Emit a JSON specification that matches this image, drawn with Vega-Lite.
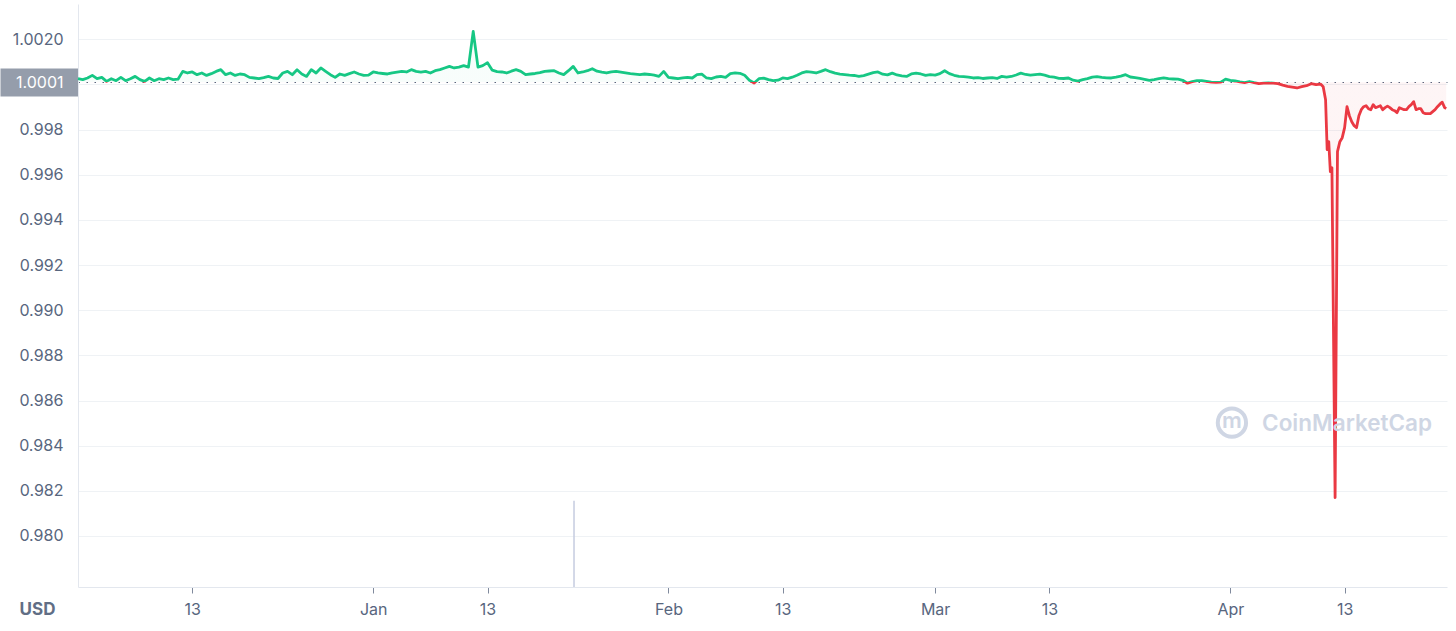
{
"$schema":"https://vega.github.io/schema/vega-lite/v6.json",
"width":1369,"height":583,"autosize":"none",
"padding":{"left":78,"top":4,"right":9,"bottom":44},
"background":"#ffffff",
"config":{"view":{"stroke":null},"font":"Inter"},
"datasets":{
"price":[
{"t":"2022-12-01T00:00","p":1.000255},{"t":"2022-12-01T12:00","p":1.000211},
{"t":"2022-12-02T00:00","p":1.000286},{"t":"2022-12-02T12:00","p":1.000401},
{"t":"2022-12-03T00:00","p":1.000255},{"t":"2022-12-03T12:00","p":1.000313},
{"t":"2022-12-04T00:00","p":1.000135},{"t":"2022-12-04T12:00","p":1.000255},
{"t":"2022-12-05T00:00","p":1.000166},{"t":"2022-12-05T12:00","p":1.000313},
{"t":"2022-12-06T00:00","p":1.000166},{"t":"2022-12-06T12:00","p":1.000255},
{"t":"2022-12-07T00:00","p":1.000357},{"t":"2022-12-07T12:00","p":1.000211},
{"t":"2022-12-08T00:00","p":1.000135},{"t":"2022-12-08T12:00","p":1.000286},
{"t":"2022-12-09T00:00","p":1.000166},{"t":"2022-12-09T12:00","p":1.000255},
{"t":"2022-12-10T00:00","p":1.000211},{"t":"2022-12-10T12:00","p":1.000286},
{"t":"2022-12-11T00:00","p":1.000211},{"t":"2022-12-11T12:00","p":1.000233},
{"t":"2022-12-12T00:00","p":1.000578},{"t":"2022-12-12T12:00","p":1.000508},
{"t":"2022-12-13T00:00","p":1.000552},{"t":"2022-12-13T12:00","p":1.000432},
{"t":"2022-12-14T00:00","p":1.000508},{"t":"2022-12-14T12:00","p":1.000401},
{"t":"2022-12-15T00:00","p":1.000477},{"t":"2022-12-15T12:00","p":1.000578},
{"t":"2022-12-16T00:00","p":1.000654},{"t":"2022-12-16T12:00","p":1.000432},
{"t":"2022-12-17T00:00","p":1.000508},{"t":"2022-12-17T12:00","p":1.000401},
{"t":"2022-12-18T00:00","p":1.000463},{"t":"2022-12-18T12:00","p":1.000432},
{"t":"2022-12-19T00:00","p":1.000313},{"t":"2022-12-19T12:00","p":1.000286},
{"t":"2022-12-20T00:00","p":1.000255},{"t":"2022-12-20T12:00","p":1.000299},
{"t":"2022-12-21T00:00","p":1.000357},{"t":"2022-12-21T12:00","p":1.000286},
{"t":"2022-12-22T00:00","p":1.000264},{"t":"2022-12-22T12:00","p":1.000508},
{"t":"2022-12-23T00:00","p":1.000578},{"t":"2022-12-23T12:00","p":1.000432},
{"t":"2022-12-24T00:00","p":1.000654},{"t":"2022-12-24T12:00","p":1.000463},
{"t":"2022-12-25T00:00","p":1.000357},{"t":"2022-12-25T12:00","p":1.000654},
{"t":"2022-12-26T00:00","p":1.000508},{"t":"2022-12-26T12:00","p":1.000729},
{"t":"2022-12-27T00:00","p":1.000578},{"t":"2022-12-27T12:00","p":1.000432},
{"t":"2022-12-28T00:00","p":1.000313},{"t":"2022-12-28T12:00","p":1.000463},
{"t":"2022-12-29T00:00","p":1.000401},{"t":"2022-12-29T12:00","p":1.000477},
{"t":"2022-12-30T00:00","p":1.000552},{"t":"2022-12-30T12:00","p":1.000463},
{"t":"2022-12-31T00:00","p":1.000401},{"t":"2022-12-31T12:00","p":1.00041},
{"t":"2023-01-01T00:00","p":1.000552},{"t":"2023-01-01T12:00","p":1.000508},
{"t":"2023-01-02T00:00","p":1.000485},{"t":"2023-01-02T12:00","p":1.000463},
{"t":"2023-01-03T00:00","p":1.000508},{"t":"2023-01-03T12:00","p":1.000543},
{"t":"2023-01-04T00:00","p":1.000578},{"t":"2023-01-04T12:00","p":1.000552},
{"t":"2023-01-05T00:00","p":1.000654},{"t":"2023-01-05T12:00","p":1.000578},
{"t":"2023-01-06T00:00","p":1.000543},{"t":"2023-01-06T12:00","p":1.000578},
{"t":"2023-01-07T00:00","p":1.000508},{"t":"2023-01-07T12:00","p":1.000609},
{"t":"2023-01-08T00:00","p":1.000654},{"t":"2023-01-08T12:00","p":1.000729},
{"t":"2023-01-09T00:00","p":1.0008},{"t":"2023-01-09T12:00","p":1.000729},
{"t":"2023-01-10T00:00","p":1.000765},{"t":"2023-01-10T12:00","p":1.000831},
{"t":"2023-01-11T00:00","p":1.000765},{"t":"2023-01-11T12:00","p":1.00235},
{"t":"2023-01-12T00:00","p":1.000765},{"t":"2023-01-12T12:00","p":1.000831},
{"t":"2023-01-13T00:00","p":1.000964},{"t":"2023-01-13T12:00","p":1.000632},
{"t":"2023-01-14T00:00","p":1.000565},{"t":"2023-01-14T12:00","p":1.000552},
{"t":"2023-01-15T00:00","p":1.000508},{"t":"2023-01-15T12:00","p":1.000587},
{"t":"2023-01-16T00:00","p":1.000654},{"t":"2023-01-16T12:00","p":1.000578},
{"t":"2023-01-17T00:00","p":1.000432},{"t":"2023-01-17T12:00","p":1.000463},
{"t":"2023-01-18T00:00","p":1.000485},{"t":"2023-01-18T12:00","p":1.000521},
{"t":"2023-01-19T00:00","p":1.000578},{"t":"2023-01-19T12:00","p":1.000596},
{"t":"2023-01-20T00:00","p":1.000609},{"t":"2023-01-20T12:00","p":1.000508},
{"t":"2023-01-21T00:00","p":1.000432},{"t":"2023-01-21T12:00","p":1.000609},
{"t":"2023-01-22T00:00","p":1.0008},{"t":"2023-01-22T12:00","p":1.000508},
{"t":"2023-01-23T00:00","p":1.000552},{"t":"2023-01-23T12:00","p":1.000609},
{"t":"2023-01-24T00:00","p":1.000698},{"t":"2023-01-24T12:00","p":1.000587},
{"t":"2023-01-25T00:00","p":1.000543},{"t":"2023-01-25T12:00","p":1.000508},
{"t":"2023-01-26T00:00","p":1.000552},{"t":"2023-01-26T12:00","p":1.000578},
{"t":"2023-01-27T00:00","p":1.000543},{"t":"2023-01-27T12:00","p":1.000508},
{"t":"2023-01-28T00:00","p":1.000477},{"t":"2023-01-28T12:00","p":1.000454},
{"t":"2023-01-29T00:00","p":1.000432},{"t":"2023-01-29T12:00","p":1.000463},
{"t":"2023-01-30T00:00","p":1.000441},{"t":"2023-01-30T12:00","p":1.00041},
{"t":"2023-01-31T00:00","p":1.000357},{"t":"2023-01-31T12:00","p":1.000578},
{"t":"2023-02-01T00:00","p":1.000313},{"t":"2023-02-01T12:00","p":1.000286},
{"t":"2023-02-02T00:00","p":1.000255},{"t":"2023-02-02T12:00","p":1.00029},
{"t":"2023-02-03T00:00","p":1.000313},{"t":"2023-02-03T12:00","p":1.000286},
{"t":"2023-02-04T00:00","p":1.000432},{"t":"2023-02-04T12:00","p":1.000454},
{"t":"2023-02-05T00:00","p":1.000286},{"t":"2023-02-05T12:00","p":1.000255},
{"t":"2023-02-06T00:00","p":1.00033},{"t":"2023-02-06T12:00","p":1.000353},
{"t":"2023-02-07T00:00","p":1.000313},{"t":"2023-02-07T12:00","p":1.000477},
{"t":"2023-02-08T00:00","p":1.000508},{"t":"2023-02-08T12:00","p":1.000494},
{"t":"2023-02-09T00:00","p":1.00041},{"t":"2023-02-09T12:00","p":1.000189},
{"t":"2023-02-10T00:00","p":1.000065},{"t":"2023-02-10T12:00","p":1.000255},
{"t":"2023-02-11T00:00","p":1.000277},{"t":"2023-02-11T12:00","p":1.000211},
{"t":"2023-02-12T00:00","p":1.000166},{"t":"2023-02-12T12:00","p":1.000189},
{"t":"2023-02-13T00:00","p":1.000286},{"t":"2023-02-13T12:00","p":1.000255},
{"t":"2023-02-14T00:00","p":1.000322},{"t":"2023-02-14T12:00","p":1.00041},
{"t":"2023-02-15T00:00","p":1.000508},{"t":"2023-02-15T12:00","p":1.000565},
{"t":"2023-02-16T00:00","p":1.000543},{"t":"2023-02-16T12:00","p":1.000508},
{"t":"2023-02-17T00:00","p":1.000578},{"t":"2023-02-17T12:00","p":1.000654},
{"t":"2023-02-18T00:00","p":1.000565},{"t":"2023-02-18T12:00","p":1.000499},
{"t":"2023-02-19T00:00","p":1.000454},{"t":"2023-02-19T12:00","p":1.000432},
{"t":"2023-02-20T00:00","p":1.00041},{"t":"2023-02-20T12:00","p":1.000397},
{"t":"2023-02-21T00:00","p":1.000357},{"t":"2023-02-21T12:00","p":1.000392},
{"t":"2023-02-22T00:00","p":1.000454},{"t":"2023-02-22T12:00","p":1.000521},
{"t":"2023-02-23T00:00","p":1.000552},{"t":"2023-02-23T12:00","p":1.000454},
{"t":"2023-02-24T00:00","p":1.000423},{"t":"2023-02-24T12:00","p":1.000499},
{"t":"2023-02-25T00:00","p":1.000419},{"t":"2023-02-25T12:00","p":1.000379},
{"t":"2023-02-26T00:00","p":1.000357},{"t":"2023-02-26T12:00","p":1.000463},
{"t":"2023-02-27T00:00","p":1.000499},{"t":"2023-02-27T12:00","p":1.000463},
{"t":"2023-02-28T00:00","p":1.000401},{"t":"2023-02-28T12:00","p":1.000432},
{"t":"2023-03-01T00:00","p":1.000415},{"t":"2023-03-01T12:00","p":1.000477},
{"t":"2023-03-02T00:00","p":1.000609},{"t":"2023-03-02T12:00","p":1.000477},
{"t":"2023-03-03T00:00","p":1.000406},{"t":"2023-03-03T12:00","p":1.000357},
{"t":"2023-03-04T00:00","p":1.000344},{"t":"2023-03-04T12:00","p":1.000322},
{"t":"2023-03-05T00:00","p":1.000286},{"t":"2023-03-05T12:00","p":1.000299},
{"t":"2023-03-06T00:00","p":1.000264},{"t":"2023-03-06T12:00","p":1.000286},
{"t":"2023-03-07T00:00","p":1.000299},{"t":"2023-03-07T12:00","p":1.000264},
{"t":"2023-03-08T00:00","p":1.000357},{"t":"2023-03-08T12:00","p":1.000322},
{"t":"2023-03-09T00:00","p":1.000353},{"t":"2023-03-09T12:00","p":1.000419},
{"t":"2023-03-10T00:00","p":1.000499},{"t":"2023-03-10T12:00","p":1.000441},
{"t":"2023-03-11T00:00","p":1.00041},{"t":"2023-03-11T12:00","p":1.000432},
{"t":"2023-03-12T00:00","p":1.000454},{"t":"2023-03-12T12:00","p":1.00041},
{"t":"2023-03-13T00:00","p":1.000348},{"t":"2023-03-13T12:00","p":1.000322},
{"t":"2023-03-14T00:00","p":1.000273},{"t":"2023-03-14T12:00","p":1.000264},
{"t":"2023-03-15T00:00","p":1.000286},{"t":"2023-03-15T12:00","p":1.000189},
{"t":"2023-03-16T00:00","p":1.000144},{"t":"2023-03-16T12:00","p":1.000211},
{"t":"2023-03-17T00:00","p":1.000255},{"t":"2023-03-17T12:00","p":1.000322},
{"t":"2023-03-18T00:00","p":1.000344},{"t":"2023-03-18T12:00","p":1.000313},
{"t":"2023-03-19T00:00","p":1.00029},{"t":"2023-03-19T12:00","p":1.000286},
{"t":"2023-03-20T00:00","p":1.000322},{"t":"2023-03-20T12:00","p":1.000366},
{"t":"2023-03-21T00:00","p":1.000432},{"t":"2023-03-21T12:00","p":1.00033},
{"t":"2023-03-22T00:00","p":1.000299},{"t":"2023-03-22T12:00","p":1.000264},
{"t":"2023-03-23T00:00","p":1.000228},{"t":"2023-03-23T12:00","p":1.000184},
{"t":"2023-03-24T00:00","p":1.000215},{"t":"2023-03-24T12:00","p":1.000255},
{"t":"2023-03-25T00:00","p":1.000286},{"t":"2023-03-25T12:00","p":1.000255},
{"t":"2023-03-26T00:00","p":1.000242},{"t":"2023-03-26T12:00","p":1.000233},
{"t":"2023-03-27T00:00","p":1.000184},{"t":"2023-03-27T12:00","p":1.000056},
{"t":"2023-03-28T00:00","p":1.000122},{"t":"2023-03-28T12:00","p":1.000166},
{"t":"2023-03-29T00:00","p":1.000171},{"t":"2023-03-29T12:00","p":1.00014},
{"t":"2023-03-30T00:00","p":1.000104},{"t":"2023-03-30T12:00","p":1.000091},
{"t":"2023-03-31T00:00","p":1.0001},{"t":"2023-03-31T12:00","p":1.000233},
{"t":"2023-04-01T00:00","p":1.00018},{"t":"2023-04-01T12:00","p":1.000153},
{"t":"2023-04-02T00:00","p":1.000109},{"t":"2023-04-02T12:00","p":1.000078},
{"t":"2023-04-03T00:00","p":1.000131},{"t":"2023-04-03T12:00","p":1.000078},
{"t":"2023-04-04T00:00","p":1.000034},{"t":"2023-04-04T12:00","p":1.000056},
{"t":"2023-04-05T00:00","p":1.000069},{"t":"2023-04-05T12:00","p":1.000056},
{"t":"2023-04-06T00:00","p":1.000034},{"t":"2023-04-06T12:00","p":0.999967},
{"t":"2023-04-07T00:00","p":0.999914},{"t":"2023-04-07T12:00","p":0.999878},
{"t":"2023-04-08T00:00","p":0.999843},{"t":"2023-04-08T12:00","p":0.999901},
{"t":"2023-04-09T00:00","p":0.999945},{"t":"2023-04-09T12:00","p":1.000034},
{"t":"2023-04-10T00:00","p":0.999989},{"t":"2023-04-10T12:00","p":1.000011},
{"t":"2023-04-10T18:00","p":0.999901},
{"t":"2023-04-11T00:00","p":0.999325},{"t":"2023-04-11T04:00","p":0.99711},
{"t":"2023-04-11T08:00","p":0.997465},{"t":"2023-04-11T12:00","p":0.996136},
{"t":"2023-04-11T16:00","p":0.996313},
{"t":"2023-04-12T00:00","p":0.9817},{"t":"2023-04-12T06:00","p":0.997022},
{"t":"2023-04-12T12:00","p":0.997465},{"t":"2023-04-12T18:00","p":0.997642},
{"t":"2023-04-13T00:00","p":0.998085},{"t":"2023-04-13T06:00","p":0.999015},
{"t":"2023-04-13T12:00","p":0.998616},{"t":"2023-04-13T18:00","p":0.998351},
{"t":"2023-04-14T00:00","p":0.998173},{"t":"2023-04-14T06:00","p":0.998085},
{"t":"2023-04-14T12:00","p":0.998616},{"t":"2023-04-14T18:00","p":0.998882},
{"t":"2023-04-15T00:00","p":0.999015},{"t":"2023-04-15T06:00","p":0.99906},
{"t":"2023-04-15T12:00","p":0.998927},{"t":"2023-04-15T18:00","p":0.998882},
{"t":"2023-04-16T00:00","p":0.999104},{"t":"2023-04-16T06:00","p":0.998971},
{"t":"2023-04-16T12:00","p":0.999015},{"t":"2023-04-16T18:00","p":0.99906},
{"t":"2023-04-17T00:00","p":0.998882},{"t":"2023-04-17T06:00","p":0.998971},
{"t":"2023-04-17T12:00","p":0.999037},{"t":"2023-04-17T18:00","p":0.998971},
{"t":"2023-04-18T00:00","p":0.998882},{"t":"2023-04-18T06:00","p":0.998838},
{"t":"2023-04-18T12:00","p":0.998749},{"t":"2023-04-18T18:00","p":0.998971},
{"t":"2023-04-19T00:00","p":0.998927},{"t":"2023-04-19T06:00","p":0.998882},
{"t":"2023-04-19T12:00","p":0.998882},{"t":"2023-04-19T18:00","p":0.999015},
{"t":"2023-04-20T00:00","p":0.999104},{"t":"2023-04-20T06:00","p":0.999236},
{"t":"2023-04-20T12:00","p":0.998882},{"t":"2023-04-20T18:00","p":0.998927},
{"t":"2023-04-21T00:00","p":0.998927},{"t":"2023-04-21T06:00","p":0.998749},
{"t":"2023-04-21T12:00","p":0.998705},{"t":"2023-04-21T18:00","p":0.998705},
{"t":"2023-04-22T00:00","p":0.998705},{"t":"2023-04-22T06:00","p":0.998793},
{"t":"2023-04-22T12:00","p":0.998882},{"t":"2023-04-22T18:00","p":0.999015},
{"t":"2023-04-23T00:00","p":0.999126},{"t":"2023-04-23T06:00","p":0.999214},
{"t":"2023-04-23T12:00","p":0.998971},{"t":"2023-04-23T16:00","p":0.998927}
],
"volume":[{"t":"2023-01-22T02:00","vol":14.8}],
"mark":[{"label":"CoinMarketCap"}]
},
"layer":[
{
"data":{"name":"price"},
"layer":[
{
"mark":{"type":"area","fill":{"gradient":"linear","x1":0,"y1":0,"x2":0,"y2":1,"stops":[{"offset":0,"color":"rgba(22,199,132,0.03)"},{"offset":0.109,"color":"rgba(22,199,132,0.03)"},{"offset":0.109,"color":"rgba(234,57,67,0.05)"},{"offset":1,"color":"rgba(234,57,67,0.05)"}]}},
"encoding":{
"x":{"field":"t","type":"temporal",
"scale":{"domain":[{"year":2022,"month":12,"date":1},{"year":2023,"month":4,"date":23,"hours":18}]},
"axis":{"values":[{"year":2022,"month":12,"date":13},{"year":2023,"month":1,"date":1},{"year":2023,"month":1,"date":13},{"year":2023,"month":2,"date":1},{"year":2023,"month":2,"date":13},{"year":2023,"month":3,"date":1},{"year":2023,"month":3,"date":13},{"year":2023,"month":4,"date":1},{"year":2023,"month":4,"date":13}],
"labelExpr":"date(datum.value) == 1 ? timeFormat(datum.value, '%b') : timeFormat(datum.value, '%-d')",
"title":"USD","titleX":-41,"titleY":22,"titleAlign":"center","titleBaseline":"middle","titleFont":"Inter","titleFontSize":17,"titleFontWeight":"bold","titleColor":"#616e85",
"labelFont":"Inter","labelFontSize":16,"labelColor":"#58667e","labelPadding":8,"labelOverlap":false,"labelFlush":false,
"tickSize":6,"tickColor":"#808a9d","domainColor":"#e3e7ee","grid":false}},
"y":{"field":"p","type":"quantitative",
"scale":{"domain":[0.977741,1.003563],"nice":false,"zero":false},
"axis":{"values":[0.98,0.982,0.984,0.986,0.988,0.99,0.992,0.994,0.996,0.998,1,1.0001,1.002],
"title":null,
"labelExpr":"datum.value == 1 ? '' : datum.value > 1 ? format(datum.value, '.4f') : format(datum.value, '.3f')",
"labelFont":"Inter","labelFontSize":16,
"labelColor":{"condition":{"test":"datum.value == 1.0001","value":"#ffffff"},"value":"#58667e"},
"labelOverlap":false,"labelFlush":false,
"tickSize":78,"tickWidth":28,
"tickColor":{"condition":{"test":"datum.value == 1.0001","value":"#959dab"},"value":"transparent"},
"labelPadding":-63,
"domainColor":"#e3e7ee",
"gridColor":{"condition":{"test":"datum.value == 1.0001","value":"#58667e"},"value":"#eff2f5"},
"gridDash":{"condition":{"test":"datum.value == 1.0001","value":[1.5,6.5]},"value":[]},
"gridWidth":1}},
"y2":{"datum":1.0001}
}
},
{
"mark":{"type":"line","strokeWidth":2.8,"strokeJoin":"round","stroke":{"gradient":"linear","x1":0,"y1":0,"x2":0,"y2":1,"stops":[{"offset":0,"color":"#16c784"},{"offset":0.109,"color":"#16c784"},{"offset":0.109,"color":"#ea3943"},{"offset":1,"color":"#ea3943"}]}},
"encoding":{"x":{"field":"t","type":"temporal"},"y":{"field":"p","type":"quantitative"}}
},
{
"data":{"name":"mark"},
"mark":{"type":"text","align":"left","baseline":"middle","font":"Inter","fontSize":22.5,"fontWeight":600,"color":"#cfd6e4"},
"encoding":{"x":{"datum":{"year":2023,"month":4,"date":4,"hours":8},"type":"temporal"},"y":{"datum":0.98498,"type":"quantitative"},"text":{"field":"label"}}
},
{
"data":{"name":"mark"},
"mark":{"type":"point","shape":"circle","filled":false,"size":800,"strokeWidth":4,"color":"#cfd6e4","opacity":1},
"encoding":{"x":{"datum":{"year":2023,"month":4,"date":1,"hours":4},"type":"temporal"},"y":{"datum":0.985019,"type":"quantitative"}}
},
{
"data":{"name":"mark"},
"mark":{"type":"text","text":"m","align":"center","baseline":"middle","font":"Inter","fontSize":22,"fontWeight":600,"color":"#cfd6e4","dy":-2},
"encoding":{"x":{"datum":{"year":2023,"month":4,"date":1,"hours":4},"type":"temporal"},"y":{"datum":0.985019,"type":"quantitative"}}
}
]
},
{
"data":{"name":"volume"},
"mark":{"type":"rule","strokeWidth":1.5,"color":"#c5cce0"},
"encoding":{"x":{"field":"t","type":"temporal"},"y":{"field":"vol","type":"quantitative","scale":{"domain":[0,100]},"axis":null},"y2":{"datum":0}}
}
],
"resolve":{"scale":{"y":"independent"}}
}
